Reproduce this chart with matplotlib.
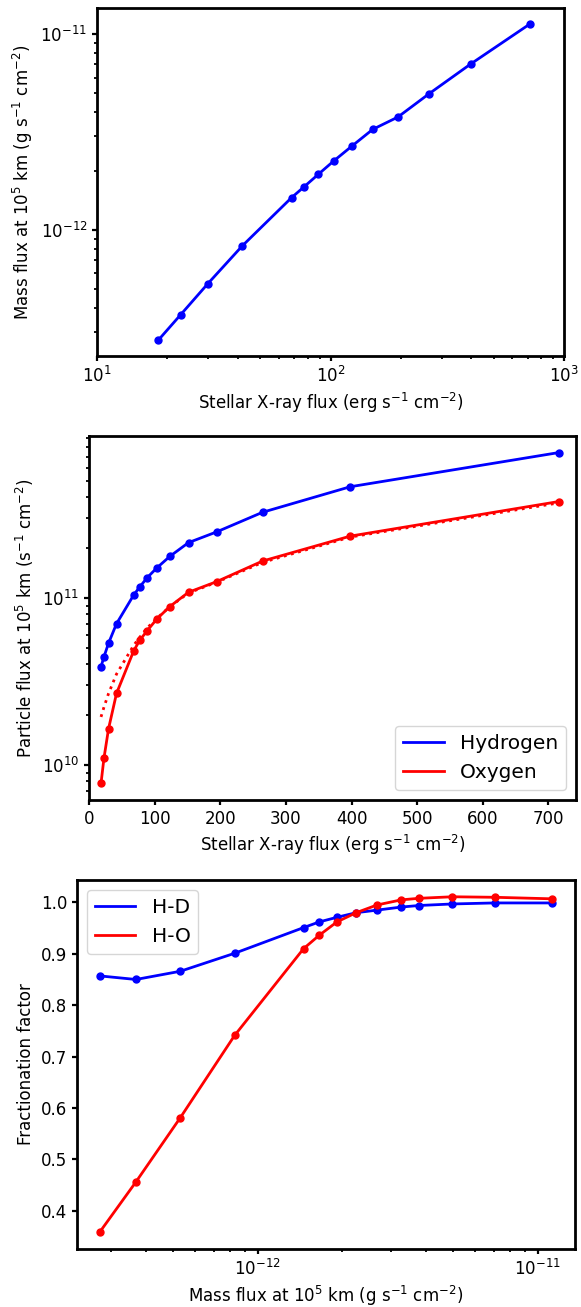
import numpy as np
import matplotlib.pyplot as plt

# stellar X-ray flux (erg s^-1 cm^-2)
xray_flux = [18.3, 22.8, 29.8, 41.9, 68.1, 77.1, 88.6, 103.3, 123.1, 151.6, 194.4, 264.4, 398.0, 716.0]

# mass flux at 1e5 km (g s^-1 cm^-2)
mass_flux = [2.73e-13, 3.68e-13, 5.30e-13, 8.28e-13, 1.46e-12, 1.66e-12, 1.92e-12,
             2.25e-12, 2.67e-12, 3.26e-12, 3.77e-12, 4.96e-12, 7.03e-12, 1.129e-11]

# particle fluxes at 1e5 km (s^-1 cm^-2)
hydrogen_flux = [3.87e10, 4.44e10, 5.36e10, 7.00e10, 1.04e11, 1.16e11, 1.32e11,
                 1.51e11, 1.77e11, 2.14e11, 2.48e11, 3.25e11, 4.62e11, 7.40e11]
oxygen_flux = [7.76e9, 1.10e10, 1.65e10, 2.68e10, 4.82e10, 5.56e10, 6.36e10,
               7.47e10, 8.87e10, 1.08e11, 1.25e11, 1.66e11, 2.34e11, 3.77e11]
oxygen_limit = [1.94e10, 2.22e10, 2.68e10, 3.50e10, 5.20e10, 5.80e10, 6.60e10,
                7.55e10, 8.85e10, 1.07e11, 1.24e11, 1.63e11, 2.31e11, 3.70e11]

# fractionation factors
frac_hd = [0.857, 0.850, 0.866, 0.901, 0.951, 0.962, 0.971,
           0.980, 0.985, 0.991, 0.994, 0.997, 0.999, 0.999]
frac_ho = [0.358, 0.456, 0.581, 0.741, 0.910, 0.936, 0.962,
           0.980, 0.995, 1.005, 1.008, 1.011, 1.010, 1.007]

plt.rcParams['font.size'] = 12
plt.rcParams['axes.linewidth'] = 2
plt.rcParams['xtick.major.width'] = 1.6
plt.rcParams['ytick.major.width'] = 1.6
plt.rcParams['xtick.minor.width'] = 1.3
plt.rcParams['ytick.minor.width'] = 1.3

W, H = 581, 1307
fig = plt.figure(figsize=(W / 100, H / 100), dpi=100)


def box(l, t, r, b):
    return [l / W, 1 - b / H, (r - l) / W, (b - t) / H]


LW = 2
MS = 5

# top: mass flux vs X-ray flux
ax1 = fig.add_axes(box(97, 8, 564, 356))
ax1.plot(xray_flux, mass_flux, '-', color='blue', lw=LW)
ax1.plot(xray_flux, mass_flux, 'o', color='blue', ms=MS)
ax1.set_xscale('log')
ax1.set_yscale('log')
ax1.set_xlim(10, 1000)
ax1.set_xlabel(r'Stellar X-ray flux (erg s$^{-1}$ cm$^{-2}$)')
ax1.set_ylabel(r'Mass flux at 10$^5$ km (g s$^{-1}$ cm$^{-2}$)')

# middle: particle fluxes
ax2 = fig.add_axes(box(89, 436, 576, 800))
ax2.plot(xray_flux, hydrogen_flux, '-', color='blue', lw=LW, label='Hydrogen')
ax2.plot(xray_flux, hydrogen_flux, 'o', color='blue', ms=MS)
ax2.plot(xray_flux, oxygen_flux, '-', color='red', lw=LW, label='Oxygen')
ax2.plot(xray_flux, oxygen_flux, 'o', color='red', ms=MS)
ax2.plot(xray_flux, oxygen_limit, ':', color='red', lw=LW)
ax2.set_yscale('log')
ax2.set_xlim(0, 742)
ax2.set_xlabel(r'Stellar X-ray flux (erg s$^{-1}$ cm$^{-2}$)')
ax2.set_ylabel(r'Particle flux at 10$^5$ km (s$^{-1}$ cm$^{-2}$)')
ax2.legend(loc='lower right', fontsize=14.5)

# bottom: fractionation factor vs mass flux
ax3 = fig.add_axes(box(77, 880, 575, 1249))
ax3.plot(mass_flux, frac_hd, '-', color='blue', lw=LW, label='H-D')
ax3.plot(mass_flux, frac_hd, 'o', color='blue', ms=MS)
ax3.plot(mass_flux, frac_ho, '-', color='red', lw=LW, label='H-O')
ax3.plot(mass_flux, frac_ho, 'o', color='red', ms=MS)
ax3.set_xscale('log')
ax3.set_xlabel(r'Mass flux at 10$^5$ km (g s$^{-1}$ cm$^{-2}$)')
ax3.set_ylabel('Fractionation factor')
ax3.legend(loc='upper left', fontsize=14.5)

fig.savefig('out.png', dpi=100)
